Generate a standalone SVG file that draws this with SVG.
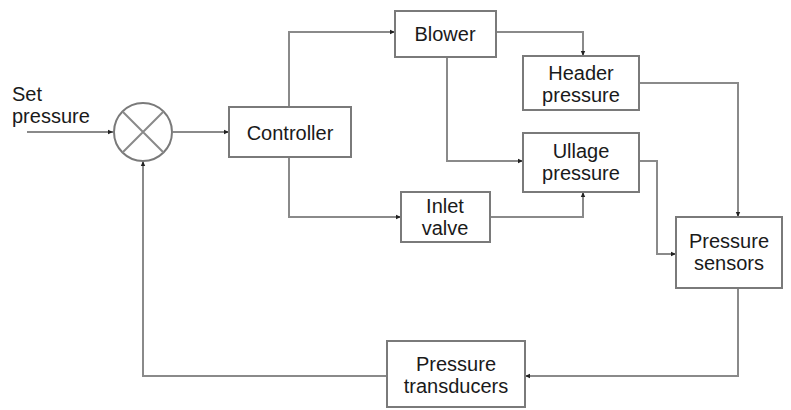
<svg xmlns="http://www.w3.org/2000/svg" width="791" height="410" viewBox="0 0 791 410">
<defs>
<marker id="ah" markerWidth="6" markerHeight="6" refX="5" refY="3" orient="auto" markerUnits="userSpaceOnUse">
<path d="M0,0.8 L5,3 L0,5.2 Z" fill="#222"/>
</marker>
<style>
.box{fill:#fff;stroke:#7a7a7a;stroke-width:2}
.ln{fill:none;stroke:#8a8a8a;stroke-width:2;marker-end:url(#ah)}
.ln2{fill:none;stroke:#8a8a8a;stroke-width:2}
text{font-family:"Liberation Sans",Arial,sans-serif;font-size:20px;fill:#1a1a1a}
.c{text-anchor:middle}
</style>
</defs>
<rect width="791" height="410" fill="#fff"/>
<g id="connectors">
<path class="ln" d="M27,132 H113"/>
<path class="ln" d="M173,132 H229"/>
<path class="ln" d="M289,107 V32 H395"/>
<path class="ln" d="M289,157 V217 H401"/>
<path class="ln" d="M496,32 H583 V56"/>
<path class="ln" d="M447,57 V161 H523"/>
<path class="ln" d="M490,217 H583 V192"/>
<path class="ln" d="M639,83 H738 V217"/>
<path class="ln" d="M639,161 H657 V254 H676"/>
<path class="ln" d="M738,288 V376 H525"/>
<path class="ln" d="M387,376 H143 V161"/>
</g>
<g id="set-pressure">
<text x="12" y="101">Set</text>
<text x="12" y="123">pressure</text>
</g>
<g id="sum">
<circle cx="143" cy="132" r="29" fill="#fff" stroke="#7a7a7a" stroke-width="2"/>
<path class="ln2" d="M122.5,111.5 L163.5,152.5 M163.5,111.5 L122.5,152.5"/>
</g>
<g id="controller">
<rect class="box" x="229" y="107" width="122" height="50"/>
<text class="c" x="290" y="140">Controller</text>
</g>
<g id="blower">
<rect class="box" x="395" y="11" width="101" height="46"/>
<text class="c" x="445" y="41">Blower</text>
</g>
<g id="inlet-valve">
<rect class="box" x="401" y="192" width="89" height="50"/>
<text class="c" x="445" y="213">Inlet</text>
<text class="c" x="445" y="235">valve</text>
</g>
<g id="header-pressure">
<rect class="box" x="523" y="56" width="116" height="54"/>
<text class="c" x="581" y="80">Header</text>
<text class="c" x="581" y="102">pressure</text>
</g>
<g id="ullage-pressure">
<rect class="box" x="523" y="133" width="116" height="59"/>
<text class="c" x="581" y="158">Ullage</text>
<text class="c" x="581" y="180">pressure</text>
</g>
<g id="pressure-sensors">
<rect class="box" x="676" y="217" width="106" height="71"/>
<text class="c" x="729" y="248">Pressure</text>
<text class="c" x="729" y="270">sensors</text>
</g>
<g id="pressure-transducers">
<rect class="box" x="387" y="341" width="138" height="66"/>
<text class="c" x="456" y="371">Pressure</text>
<text class="c" x="456" y="393">transducers</text>
</g>
</svg>
